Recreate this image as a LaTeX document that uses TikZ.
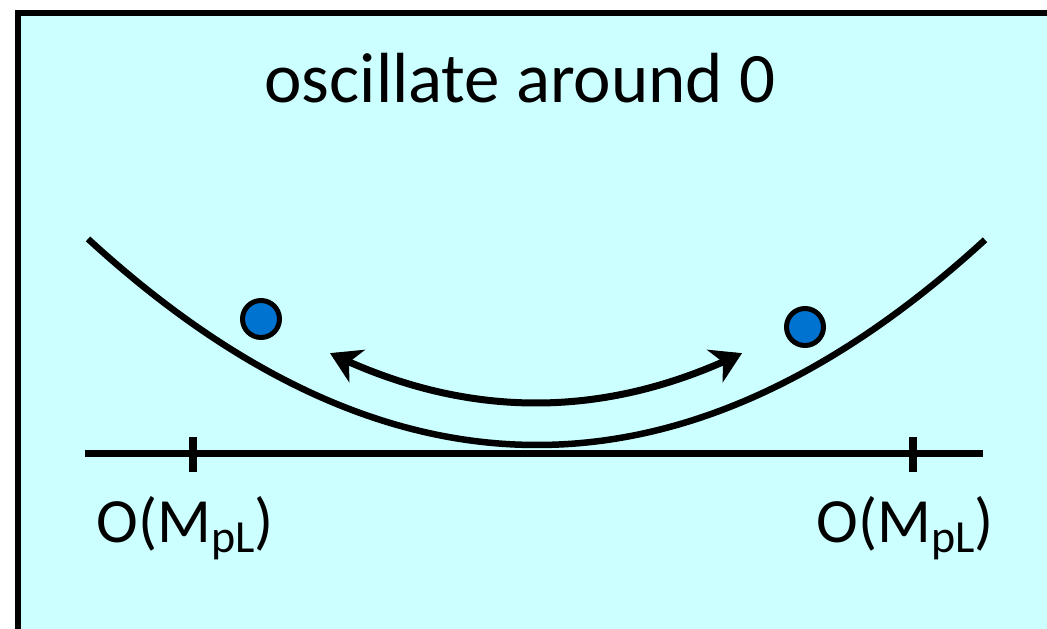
\documentclass[tikz,border=0pt]{standalone}
\usepackage{fontspec}
\setmainfont{Carlito}
\usetikzlibrary{arrows.meta}
\definecolor{bgcyan}{HTML}{CCFFFF}
\definecolor{ballblue}{HTML}{0073D1}
\tikzset{
  frame/.style={draw=black,line width=6pt,fill=bgcyan},
  curve/.style={draw=black,line width=6.5pt},
  axisline/.style={draw=black,line width=7pt},
  tick/.style={draw=black,line width=8pt},
  ball/.style={circle,draw=black,line width=5pt,fill=ballblue,minimum size=37pt,inner sep=0pt},
  swing/.style={draw=black,line width=7pt,{Stealth[length=30pt,width=36pt,inset=9pt]}-{Stealth[length=30pt,width=36pt,inset=9pt]}},
  title/.style={font=\fontsize{71}{80}\selectfont,inner sep=0pt,anchor=base},
  lab/.style={font=\fontsize{63}{72}\selectfont,inner sep=0pt,anchor=base}
}
\newcommand{\Mpl}{O(M\raisebox{-0.16em}{\fontsize{46}{50}\selectfont pL})}
\begin{document}
\begin{tikzpicture}[x=1pt,y=-1pt]
\useasboundingbox (0,0) rectangle (1047,629);
\clip (0,0) rectangle (1047,629);
\path[frame] (17.5,12.5) rectangle (1070,660);
\node[title] (t) at (520,102) {oscillate around 0};
% axis
\coordinate (axL) at (85,453);
\coordinate (axR) at (983,453);
\draw[axisline] (axL) -- (axR);
\coordinate (t1a) at (193,437); \coordinate (t1b) at (193,472);
\coordinate (t2a) at (913,437); \coordinate (t2b) at (913,472);
\draw[tick] (t1a) -- (t1b);
\draw[tick] (t2a) -- (t2b);
\node[lab] (l1) at (185,542) {\Mpl};
\node[lab] (l2) at (905,542) {\Mpl};
% potential
\draw[curve] plot[domain=88:985,samples=120] (\x,{445-0.001027*(\x-537)*(\x-537)});
% swing arrow
\draw[swing] plot[domain=330:742,samples=80] (\x,{403-0.00118*(\x-536)*(\x-536)});
% balls
\node[ball] (b1) at (261,319) {};
\node[ball] (b2) at (805,327) {};
\end{tikzpicture}
\end{document}
